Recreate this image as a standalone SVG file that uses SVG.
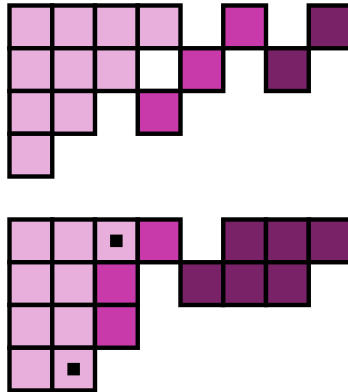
<svg xmlns="http://www.w3.org/2000/svg" width="348" height="392" viewBox="0 0 348 392">
<style>
rect.c{stroke:#000;stroke-width:4.4}
.l{fill:#E8AEDC}
.m{fill:#C83AAA}
.d{fill:#7A2268}
.w{fill:#fff}
.dot{fill:#000}
</style>
<rect width="348" height="392" fill="#fff"/>
<g id="top">
<g id="t00"><rect class="c l" x="9.5" y="5.5" width="42.75" height="42.75"/></g>
<g id="t01"><rect class="c l" x="52.25" y="5.5" width="42.75" height="42.75"/></g>
<g id="t02"><rect class="c l" x="95" y="5.5" width="42.75" height="42.75"/></g>
<g id="t03"><rect class="c l" x="137.75" y="5.5" width="42.75" height="42.75"/></g>
<g id="t05"><rect class="c m" x="223.25" y="5.5" width="42.75" height="42.75"/></g>
<g id="t07"><rect class="c d" x="308.75" y="5.5" width="42.75" height="42.75"/></g>
<g id="t10"><rect class="c l" x="9.5" y="48.25" width="42.75" height="42.75"/></g>
<g id="t11"><rect class="c l" x="52.25" y="48.25" width="42.75" height="42.75"/></g>
<g id="t12"><rect class="c l" x="95" y="48.25" width="42.75" height="42.75"/></g>
<g id="t13"><rect class="c w" x="137.75" y="48.25" width="42.75" height="42.75"/></g>
<g id="t14"><rect class="c m" x="180.5" y="48.25" width="42.75" height="42.75"/></g>
<g id="t16"><rect class="c d" x="266" y="48.25" width="42.75" height="42.75"/></g>
<g id="t20"><rect class="c l" x="9.5" y="91" width="42.75" height="42.75"/></g>
<g id="t21"><rect class="c l" x="52.25" y="91" width="42.75" height="42.75"/></g>
<g id="t23"><rect class="c m" x="137.75" y="91" width="42.75" height="42.75"/></g>
<g id="t30"><rect class="c l" x="9.5" y="133.75" width="42.75" height="42.75"/></g>
</g>
<g id="bottom">
<g id="b00"><rect class="c l" x="9.5" y="219.5" width="42.75" height="42.75"/></g>
<g id="b01"><rect class="c l" x="52.25" y="219.5" width="42.75" height="42.75"/></g>
<g id="b02"><rect class="c l" x="95" y="219.5" width="42.75" height="42.75"/><rect class="dot" x="110.1" y="234.6" width="12.5" height="12.5"/></g>
<g id="b03"><rect class="c m" x="137.75" y="219.5" width="42.75" height="42.75"/></g>
<g id="b05"><rect class="c d" x="223.25" y="219.5" width="42.75" height="42.75"/></g>
<g id="b06"><rect class="c d" x="266" y="219.5" width="42.75" height="42.75"/></g>
<g id="b07"><rect class="c d" x="308.75" y="219.5" width="42.75" height="42.75"/></g>
<g id="b10"><rect class="c l" x="9.5" y="262.25" width="42.75" height="42.75"/></g>
<g id="b11"><rect class="c l" x="52.25" y="262.25" width="42.75" height="42.75"/></g>
<g id="b12"><rect class="c m" x="95" y="262.25" width="42.75" height="42.75"/></g>
<g id="b14"><rect class="c d" x="180.5" y="262.25" width="42.75" height="42.75"/></g>
<g id="b15"><rect class="c d" x="223.25" y="262.25" width="42.75" height="42.75"/></g>
<g id="b16"><rect class="c d" x="266" y="262.25" width="42.75" height="42.75"/></g>
<g id="b20"><rect class="c l" x="9.5" y="305" width="42.75" height="42.75"/></g>
<g id="b21"><rect class="c l" x="52.25" y="305" width="42.75" height="42.75"/></g>
<g id="b22"><rect class="c m" x="95" y="305" width="42.75" height="42.75"/></g>
<g id="b30"><rect class="c l" x="9.5" y="347.75" width="42.75" height="42.75"/></g>
<g id="b31"><rect class="c l" x="52.25" y="347.75" width="42.75" height="42.75"/><rect class="dot" x="67.4" y="362.9" width="12.5" height="12.5"/></g>
</g>
<g id="connectors"/>
</svg>
